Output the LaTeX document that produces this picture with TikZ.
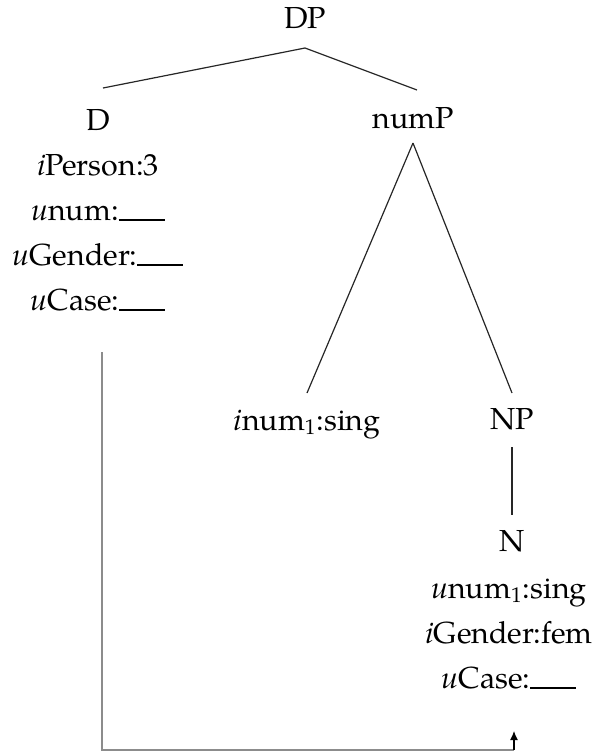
\documentclass[tikz,border=0pt]{standalone}
\usepackage{fontspec}
\setmainfont{TeX Gyre Pagella}
\usetikzlibrary{arrows.meta,positioning}
\newcommand{\emptyval}{\rule[-0.3pt]{23pt}{0.8pt}}

\begin{document}
\begin{tikzpicture}[x=0.5pt,y=-0.5pt]
\tikzstyle{cat}=[inner sep=0pt,outer sep=0pt,text height=10pt,text depth=3pt,
font=\fontsize{15.2}{18}\selectfont]
\tikzstyle{feat}=[cat,node distance=22.5pt]
\tikzstyle{branch}=[draw=black!85,line width=0.6pt]
\tikzstyle{link}=[draw=black!45,line width=0.9pt]

\useasboundingbox (0,0) rectangle (600,751);

\node[cat] at (305,21)	(DP) {DP};
\node[cat] at (98,123)	(D) {D};
\node[cat] at (413,121)	(numP) {numP};
\node[feat,below of =D,](Di) {\textit{i}Person:3} ;
\node[feat,below of =Di,](Dnum) {\textit{u}num:\emptyval} ;
\node[feat,below of =Dnum,](Dgen) {\textit{u}Gender:\emptyval} ;
\node[feat,below of =Dgen,](Dcase) {\textit{u}Case:\emptyval} ;

\node[cat] at (307,423)	(num) {\textit{i}num\textsubscript{1}:sing};
\node[cat] at (512,422)	(NP) {NP};
\node[cat] at (512,544)	(N) {N};
\node[feat,below of =N,xshift=-1.5pt,yshift=-1pt](Nnum) {\textit{u}num\textsubscript{1}:sing} ;
\node[feat,below of =Nnum,](Ngen) {\textit{i}Gender:fem} ;
\node[feat,below of =Ngen,](Ncase) {\textit{u}Case:\emptyval} ;

\coordinate (tail) at (102,352);
\coordinate (bend) at (514,750);
\coordinate (tip) at (514,731);

\draw[branch] ([yshift=-7pt]DP.south) -- ([xshift=2.5pt,yshift=11pt]D.north);
\draw[branch] ([yshift=-7pt]DP.south) -- ([xshift=2pt,yshift=9pt]numP.north);
\draw[branch] ([yshift=-4.5pt]numP.south) -- ([yshift=8.5pt]num.north);
\draw[branch] ([yshift=-4.5pt]numP.south) -- ([yshift=8pt]NP.north);
\draw[branch] ([yshift=-6pt]NP.south) -- ([yshift=8pt]N.north);

\draw[link] (tail) |- (bend);
\draw[-{Latex[length=4.5pt,width=4pt]},line width=0.6pt] (bend) -- (tip);

\end{tikzpicture}
\end{document}
